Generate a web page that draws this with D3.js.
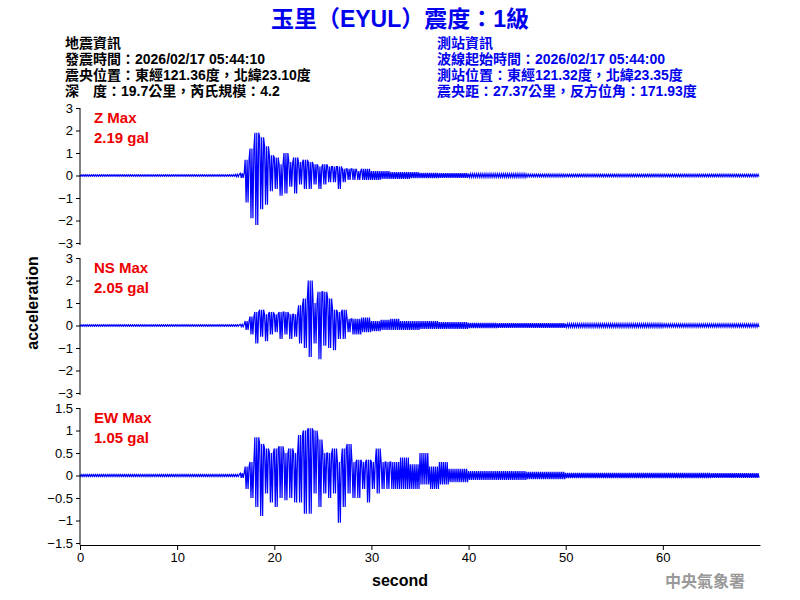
<!DOCTYPE html>
<html>
<head>
<style>
  body { margin: 0; background: #fff; }
  text { font-family: Arial, "Liberation Sans", "Noto Sans CJK TC", sans-serif; }
</style>
</head>
<body>
<svg id="svg" width="800" height="600"></svg>
<script src="https://d3js.org/d3.v7.min.js"></script>
<script>
// envelope: bin start time (s), max and min (gal)
const zTime = [0, 10, 16, 16.5, 17, 17.5, 18, 18.5, 19, 19.5, 20, 20.5, 21, 21.5, 22, 22.5, 23, 23.5, 24, 24.5, 25, 25.5, 26, 26.5, 27, 27.5, 28, 28.5, 29, 30, 31, 32, 33, 34, 35, 37, 40, 43, 46, 50, 55, 60, 65]
const zMax  = [0.03, 0.03, 0.05, 0.1, 0.7, 1.2, 1.9, 1.7, 1.3, 0.9, 0.8, 0.5, 1.0, 0.6, 0.8, 0.6, 0.7, 0.6, 0.5, 0.4, 0.5, 0.4, 0.4, 0.4, 0.3, 0.3, 0.3, 0.2, 0.3, 0.2, 0.2, 0.15, 0.15, 0.15, 0.12, 0.1, 0.08, 0.08, 0.06, 0.05, 0.05, 0.05, 0.05]
const zMin  = [-0.03, -0.03, -0.05, -0.1, -1.2, -1.9, -2.2, -1.5, -1.3, -0.7, -0.6, -0.9, -0.8, -0.5, -0.8, -0.4, -0.6, -0.6, -0.4, -0.6, -0.4, -0.3, -0.3, -0.6, -0.3, -0.2, -0.2, -0.2, -0.2, -0.2, -0.15, -0.15, -0.15, -0.12, -0.12, -0.1, -0.08, -0.08, -0.06, -0.05, -0.05, -0.05, -0.05]

const nsTime = [0, 10, 16.5, 17, 17.5, 18, 18.5, 19, 19.5, 20, 20.5, 21, 21.5, 22, 22.5, 23, 23.5, 24, 24.5, 25, 25.5, 26, 26.5, 27, 27.5, 28, 29, 30, 31, 32, 33, 35, 37, 40, 43, 46, 50, 55, 60, 65]
const nsMax  = [0.03, 0.03, 0.05, 0.2, 0.4, 0.6, 0.7, 0.5, 0.6, 0.5, 0.6, 0.6, 0.5, 0.5, 0.9, 1.2, 2.0, 1.0, 1.5, 1.5, 1.2, 0.7, 0.6, 0.7, 0.3, 0.3, 0.35, 0.2, 0.25, 0.3, 0.2, 0.2, 0.15, 0.12, 0.1, 0.1, 0.08, 0.08, 0.07, 0.07]
const nsMin  = [-0.03, -0.03, -0.05, -0.2, -0.4, -0.8, -0.5, -0.7, -0.4, -0.3, -0.6, -0.4, -0.6, -0.5, -0.8, -1.0, -1.4, -0.8, -1.5, -0.9, -1.0, -1.1, -0.6, -0.6, -0.3, -0.4, -0.3, -0.25, -0.2, -0.2, -0.2, -0.15, -0.15, -0.12, -0.1, -0.1, -0.08, -0.08, -0.07, -0.07]

const ewTime = [0, 10, 16.5, 17, 17.5, 18, 18.5, 19, 19.5, 20, 20.5, 21, 21.5, 22, 22.5, 23, 23.5, 24, 24.5, 25, 25.5, 26, 26.5, 27, 27.5, 28, 28.5, 29, 29.5, 30, 30.5, 31, 31.5, 32, 33, 34, 35, 36, 37, 38, 40, 43, 46, 50, 55, 60, 65]
const ewMax  = [0.02, 0.02, 0.05, 0.2, 0.3, 0.85, 0.7, 0.6, 0.5, 0.6, 0.65, 0.5, 0.6, 0.5, 0.9, 1.0, 1.05, 1.0, 0.8, 0.5, 0.5, 0.6, 0.3, 0.6, 0.7, 0.3, 0.35, 0.3, 0.35, 0.3, 0.6, 0.3, 0.3, 0.3, 0.4, 0.25, 0.5, 0.2, 0.3, 0.15, 0.1, 0.1, 0.08, 0.06, 0.06, 0.06, 0.05]
const ewMin  = [-0.02, -0.02, -0.05, -0.3, -0.5, -0.7, -0.9, -0.4, -0.6, -0.7, -0.5, -0.55, -0.5, -0.6, -0.6, -0.85, -0.85, -0.4, -0.7, -0.4, -0.5, -0.4, -1.05, -0.7, -0.4, -0.5, -0.5, -0.3, -0.6, -0.3, -0.4, -0.3, -0.3, -0.3, -0.3, -0.3, -0.2, -0.3, -0.2, -0.15, -0.1, -0.1, -0.08, -0.06, -0.06, -0.06, -0.05]

const panels = [
  { name: 'Z Max', max: '2.19 gal', time: zTime, hi: zMax, lo: zMin, dom: [-3, 3], ticks: [-3, -2, -1, 0, 1, 2, 3], top: 108, bot: 243 },
  { name: 'NS Max', max: '2.05 gal', time: nsTime, hi: nsMax, lo: nsMin, dom: [-3, 3], ticks: [-3, -2, -1, 0, 1, 2, 3], top: 258, bot: 393 },
  { name: 'EW Max', max: '1.05 gal', time: ewTime, hi: ewMax, lo: ewMin, dom: [-1.5, 1.5], ticks: [-1.5, -1, -0.5, 0, 0.5, 1, 1.5], top: 408, bot: 543 }
]
const xTicks = [0, 10, 20, 30, 40, 50, 60]

const svg = d3.select('#svg')
const x = d3.scaleLinear().domain([0, 70]).range([80, 760])

// title + info text
svg.append('text').attr('x', 400).attr('y', 27).attr('text-anchor', 'middle')
  .attr('fill', '#0000ee').attr('font-size', 23).attr('font-weight', 'bold')
  .text('玉里（EYUL）震度：1級')
const left = ['地震資訊', '發震時間：2026/02/17 05:44:10', '震央位置：東經121.36度，北緯23.10度', '深　度：19.7公里，芮氏規模：4.2']
const right = ['測站資訊', '波線起始時間：2026/02/17 05:44:00', '測站位置：東經121.32度，北緯23.35度', '震央距：27.37公里，反方位角：171.93度']
left.forEach((t, i) => svg.append('text').attr('x', 65).attr('y', 48 + i * 16)
  .attr('font-size', 14).attr('font-weight', 'bold').attr('fill', '#000').text(t))
right.forEach((t, i) => svg.append('text').attr('x', 437).attr('y', 48 + i * 16)
  .attr('font-size', 14).attr('font-weight', 'bold').attr('fill', '#0000ee').text(t))

panels.forEach(p => {
  const y = d3.scaleLinear().domain(p.dom).range([p.bot, p.top])
  // zigzag between bin max and min, several swings per bin
  const pts = []
  p.time.forEach((t, i) => {
    const t1 = i + 1 < p.time.length ? p.time[i + 1] : 70
    const n = Math.max(1, Math.round((t1 - t) / 0.1))
    const step = (t1 - t) / n
    for (let k = 0; k < n; k++) {
      pts.push([t + k * step, k % 2 ? p.lo[i] : p.hi[i]])
    }
  })
  svg.append('path').attr('d', d3.line().x(d => x(d[0])).y(d => y(d[1]))(pts))
    .attr('fill', 'none').attr('stroke', '#0000ff').attr('stroke-width', 1.2)

  svg.append('g').attr('transform', 'translate(80,0)')
    .call(d3.axisLeft(y).tickValues(p.ticks).tickSize(4).tickSizeOuter(0).tickFormat(d3.format('')))
    .call(g => g.select('.domain').attr('d', `M0,${p.top}V${p.bot + 2}`))
    .selectAll('text').attr('font-size', 13).attr('fill', '#000')

  svg.append('text').attr('x', 94).attr('y', p.top + 15).attr('fill', '#ee0000')
    .attr('font-size', 15).attr('font-weight', 'bold').text(p.name)
  svg.append('text').attr('x', 94).attr('y', p.top + 35).attr('fill', '#ee0000')
    .attr('font-size', 15).attr('font-weight', 'bold').text(p.max)
})

svg.append('g').attr('transform', 'translate(0,545)')
  .call(d3.axisBottom(x).tickValues(xTicks).tickSize(5).tickSizeOuter(0))
  .selectAll('text').attr('font-size', 13).attr('fill', '#000')

svg.append('text').attr('x', 400).attr('y', 586).attr('text-anchor', 'middle')
  .attr('font-size', 16).attr('font-weight', 'bold').text('second')
svg.append('text').attr('transform', 'translate(38,303) rotate(-90)')
  .attr('text-anchor', 'middle').attr('font-size', 16).attr('font-weight', 'bold').text('acceleration')
svg.append('text').attr('x', 745).attr('y', 587).attr('text-anchor', 'end')
  .attr('font-size', 16).attr('font-weight', 'bold').attr('fill', '#999').text('中央氣象署')
</script>
</body>
</html>
